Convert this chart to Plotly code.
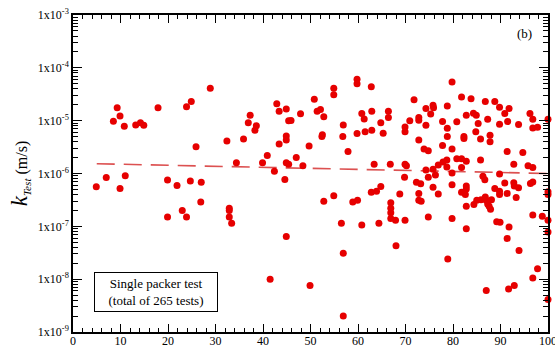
import plotly.graph_objects as go

# Test depth (m) and measured hydraulic conductivity k_Test (m/s)
depth = [
    4.9, 7.0, 8.5, 9.3, 9.9, 9.9, 10.8, 11.0, 13.2, 14.2,
    14.9, 17.9, 19.9, 19.9, 21.9, 23.0, 23.9, 23.9, 24.7, 24.9,
    25.9, 27.0, 26.9, 28.9, 32.4, 32.9, 32.9, 32.9, 33.4, 34.4,
    35.9, 36.9, 37.3, 38.3, 38.6, 39.9, 40.9, 41.5, 42.4, 42.9,
    43.4, 43.4, 44.6, 44.9, 44.9, 44.9, 45.4, 45.9, 44.9, 45.4,
    44.9, 47.0, 47.9, 48.4, 49.7, 49.9, 50.8, 51.4, 52.1, 52.8,
    52.5, 52.4, 52.8, 54.9, 54.9, 54.9, 56.5, 56.9, 56.8, 56.9,
    56.9, 57.9, 58.9, 59.8, 59.8, 59.8, 59.9, 60.8, 61.3, 60.8,
    61.5, 62.9, 62.9, 62.8, 62.8, 63.4, 63.9, 64.4, 64.8, 64.8,
    65.3, 66.4, 66.4, 66.8, 66.9, 66.9, 66.9, 66.9, 67.9, 68.0,
    68.8, 69.9, 69.9, 69.9, 70.2, 69.8, 69.9, 70.9, 71.8, 72.3,
    72.8, 72.8, 72.8, 72.8, 72.8, 73.3, 73.2, 73.9, 74.3, 74.3,
    74.8, 74.3, 74.8, 74.8, 75.3, 75.8, 75.9, 75.8, 75.8, 76.3,
    76.9, 76.9, 77.8, 77.8, 77.9, 78.7, 78.7, 78.8, 78.8, 78.8,
    78.9, 79.8, 79.8, 80.8, 81.8, 82.8, 79.8, 79.8, 79.8, 80.8,
    81.8, 81.8, 81.8, 82.3, 82.3, 82.8, 82.8, 82.8, 82.6, 82.8,
    82.8, 83.8, 84.3, 84.9, 84.8, 85.3, 84.4, 85.0, 85.8, 85.8,
    85.9, 86.3, 86.7, 86.8, 86.8, 87.0, 87.0, 87.3, 87.3, 87.6,
    87.9, 88.1, 87.8, 87.8, 88.8, 88.8, 89.2, 89.9, 89.8, 89.8,
    89.8, 89.8, 89.8, 90.9, 90.9, 91.4, 91.4, 91.4, 91.5, 91.7,
    91.8, 91.8, 92.8, 92.8, 92.9, 92.9, 93.3, 93.8, 93.8, 93.9,
    94.7, 95.8, 96.2, 96.3, 96.8, 96.8, 96.8, 96.8, 96.8, 96.8,
    97.8, 97.8, 98.8, 100, 100, 100, 100, 100, 100,
]

k_test = [
    5.6e-7, 8.4e-7, 9.8e-6, 1.75e-5, 1.22e-5, 5.2e-7, 7.8e-6, 9.1e-7, 8.3e-6, 9.1e-6,
    8.2e-6, 1.75e-5, 7.5e-7, 1.5e-7, 5.9e-7, 2.0e-7, 1.84e-5, 1.5e-7, 7.2e-7, 2.3e-5,
    3.2e-6, 6.8e-7, 2.9e-7, 4.1e-5, 4.1e-6, 2.2e-7, 2.0e-7, 1.5e-7, 1.15e-7, 1.6e-6,
    4.5e-6, 9.1e-6, 1.26e-5, 6.6e-6, 8.0e-6, 1.6e-6, 2.2e-6, 1.0e-8, 1.1e-6, 2.1e-5,
    1.5e-5, 3.6e-6, 7.7e-7, 1.67e-5, 5.1e-6, 4.3e-6, 1.0e-5, 1.01e-5, 1.6e-6, 1.5e-6,
    6.4e-8, 2.0e-6, 1.35e-5, 1.4e-6, 3.3e-6, 7.6e-9, 2.55e-5, 1.5e-5, 1.63e-5, 1.18e-5,
    5.4e-6, 5.0e-6, 3.0e-7, 4.1e-5, 3.1e-5, 3.8e-7, 1.15e-7, 8.3e-6, 5.0e-6, 3.1e-8,
    2.0e-9, 2.6e-6, 2.9e-7, 6.1e-5, 5.0e-5, 5.7e-6, 3.1e-7, 1.37e-5, 1.08e-5, 1.06e-7,
    6.2e-6, 6.6e-6, 1.5e-5, 4.4e-5, 4.4e-7, 1.5e-6, 4.6e-7, 1.15e-7, 9.1e-6, 5.7e-7,
    5.8e-6, 1.5e-5, 1.15e-5, 1.5e-6, 2.8e-7, 2.2e-7, 1.8e-7, 1.4e-7, 1.3e-7, 4.3e-8,
    4.1e-7, 7.6e-6, 6.2e-6, 1.5e-6, 1.4e-6, 8.5e-7, 1.3e-7, 1.0e-5, 2.5e-5, 6.8e-7,
    1.15e-5, 1.02e-5, 4.3e-6, 4.2e-7, 3.1e-7, 3.0e-7, 6.4e-7, 2.9e-6, 1.7e-5, 8.2e-6,
    2.7e-6, 1.17e-6, 8.5e-7, 1.5e-7, 1.33e-5, 1.95e-5, 1.75e-5, 1.2e-6, 5.5e-7, 9.4e-7,
    1.45e-6, 4.1e-7, 9.6e-6, 3.4e-6, 1.65e-6, 1.8e-6, 1.33e-6, 1.9e-5, 7.2e-6, 5.0e-6,
    2.4e-8, 5.4e-5, 2.9e-6, 1.9e-6, 1.9e-6, 1.7e-6, 1.02e-6, 6.1e-7, 1.4e-7, 9.5e-6,
    2.8e-5, 1.3e-6, 4.4e-7, 5.0e-6, 4.6e-6, 1.26e-5, 5.8e-7, 5.1e-7, 4.0e-7, 2.4e-7,
    9.0e-8, 2.6e-5, 1.38e-5, 1.27e-5, 6.2e-6, 8.8e-6, 2.6e-7, 3.1e-7, 4.5e-6, 1.8e-6,
    3.2e-7, 8.9e-7, 7.6e-7, 3.6e-7, 2.3e-5, 3.1e-7, 6.1e-9, 1.06e-5, 2.65e-7, 2.4e-7,
    2.1e-7, 3.2e-7, 5.3e-6, 4.0e-6, 2.3e-5, 5.2e-7, 1.22e-7, 1.2e-7, 1.8e-5, 8.6e-6,
    9.8e-7, 4.6e-7, 4.0e-7, 1.37e-5, 6.6e-7, 4.2e-7, 2.6e-6, 5.9e-8, 9.6e-6, 6.5e-9,
    1.7e-5, 9.7e-8, 1.5e-6, 6.7e-7, 5.8e-7, 7.6e-9, 3.5e-7, 5.4e-7, 8.5e-6, 3.5e-8,
    2.5e-6, 1.4e-6, 1.37e-5, 6.5e-7, 1.06e-5, 7.3e-6, 1.3e-6, 6.9e-7, 1.64e-7, 1.05e-8,
    7.5e-6, 1.57e-8, 1.56e-7, 1.06e-5, 4.5e-7, 4.0e-7, 1.3e-7, 7.8e-8, 4.1e-9,
]

# Fitted trend line end points
trend_x = [5, 100]
trend_y = [1.53e-6, 1.0e-6]

# Axis ticks
x_ticks = [0, 10, 20, 30, 40, 50, 60, 70, 80, 90, 100]
y_ticks = [1e-9, 1e-8, 1e-7, 1e-6, 1e-5, 1e-4, 1e-3]
y_ticktext = ["1x10<sup>-9</sup>", "1x10<sup>-8</sup>", "1x10<sup>-7</sup>",
              "1x10<sup>-6</sup>", "1x10<sup>-5</sup>", "1x10<sup>-4</sup>",
              "1x10<sup>-3</sup>"]

SERIF = "Liberation Serif, Times New Roman, serif"

fig = go.Figure()

fig.add_trace(go.Scatter(
    x=trend_x, y=trend_y, mode="lines",
    line=dict(color="rgba(214,50,50,0.85)", width=1.6, dash="18px,9px"),
    hoverinfo="skip", showlegend=False,
))

fig.add_trace(go.Scatter(
    x=depth, y=k_test, mode="markers",
    marker=dict(color="#e60000", size=7, line=dict(width=0)),
    cliponaxis=False, showlegend=False,
))

fig.update_layout(
    width=555, height=347,
    margin=dict(l=73, r=7, t=15, b=15),
    paper_bgcolor="white", plot_bgcolor="white",
    font=dict(family=SERIF, color="black"),
    xaxis=dict(
        range=[0, 100], tickmode="array", tickvals=x_ticks,
        ticks="inside", ticklen=8, tickwidth=1, tickcolor="black",
        minor=dict(dtick=2, ticks="inside", ticklen=4, tickcolor="black"),
        showline=True, linecolor="black", linewidth=1.5, mirror="allticks",
        showgrid=False, zeroline=False, automargin=False,
        ticklabelstandoff=-3, ticklabeloverflow="allow",
        tickfont=dict(family=SERIF, size=12, color="black"),
    ),
    yaxis=dict(
        type="log", range=[-9, -3], tickmode="array",
        tickvals=y_ticks, ticktext=y_ticktext,
        ticks="inside", ticklen=9, tickwidth=1, tickcolor="black",
        minor=dict(dtick="D1", ticks="inside", ticklen=5, tickcolor="black"),
        showline=True, linecolor="black", linewidth=1.5, mirror="allticks",
        showgrid=False, zeroline=False, automargin=False,
        tickfont=dict(family=SERIF, size=12, color="black"),
        title=dict(
            text="<span style='font-size:23px'><i>k</i></span><sub><i>Test</i></sub> (m/s)",
            font=dict(family=SERIF, size=16, color="black"),
            standoff=6,
        ),
    ),
    annotations=[
        dict(
            text="Single packer test<br>(total of 265 tests)",
            xref="paper", yref="paper", x=0.175, y=0.126,
            xanchor="center", yanchor="middle",
            showarrow=False, align="center",
            font=dict(family=SERIF, size=13, color="black"),
            bordercolor="black", borderwidth=1, bgcolor="white",
            width=120, height=36,
        ),
        dict(
            text="(b)", xref="paper", yref="paper", x=0.951, y=0.942,
            xanchor="center", yanchor="middle",
            showarrow=False, font=dict(family=SERIF, size=13, color="black"),
        ),
    ],
)

fig.write_html("out.html")
